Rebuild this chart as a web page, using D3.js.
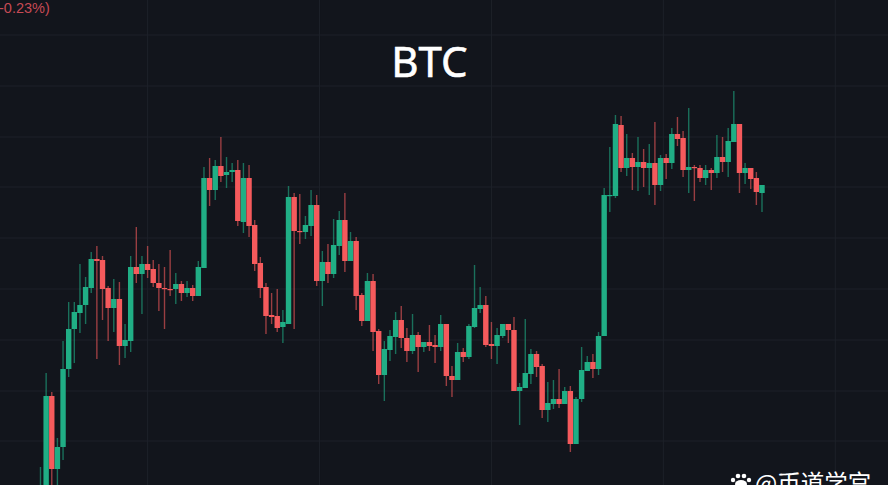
<!DOCTYPE html>
<html><head><meta charset="utf-8">
<style>html,body{margin:0;padding:0;background:#12151c;overflow:hidden}svg{display:block}</style>
<script src="https://cdn.jsdelivr.net/npm/d3@7/dist/d3.min.js"></script>
</head><body><script>
const title = "BTC";
const changeLabel = "-0.23%)";
const watermark = "@币道学宫";
const opens = [480,495,604,531,553,631,671,687,695,712,741,740,712,692,701,654,659,733,726,736,731,717,712,711,711,716,707,712,704,732,822,810,834,825,828,830,778,822,775,737,713,685,684,673,676,803,769,768,774,795,719,738,726,754,780,739,759,705,679,719,669,625,650,663,680,662,649,665,653,658,655,653,676,624,620,648,643,673,691,695,656,654,664,676,670,609,612,626,646,634,590,596,601,596,609,556,601,629,638,631,664,804,804,875,832,842,833,838,832,837,815,842,837,866,862,830,833,832,822,830,827,843,838,858,876,827,832,822,807];
const highs = [533,627,608,562,659,698,698,736,723,748,754,744,714,721,718,676,744,773,744,754,740,736,733,750,727,719,719,715,739,833,842,840,863,843,837,840,837,835,780,743,717,707,711,690,814,807,806,784,810,805,749,756,781,789,807,768,763,707,727,726,671,659,670,688,694,672,686,668,658,675,665,685,676,634,657,652,676,735,713,704,678,672,676,676,683,617,681,651,649,636,618,620,631,613,614,603,653,644,646,668,812,853,885,884,866,847,863,851,856,878,845,846,872,883,869,892,835,835,835,832,865,863,872,909,876,837,832,828,815];
const lows = [475,490,510,510,540,623,637,667,676,707,641,680,659,668,635,642,648,717,686,722,713,689,671,704,696,699,703,699,704,732,794,800,818,812,818,774,767,763,729,702,666,676,668,657,676,671,756,761,764,714,694,717,722,745,728,739,690,674,679,649,616,599,639,646,652,638,646,628,648,649,637,649,614,603,620,638,641,672,687,653,641,636,662,657,609,575,612,616,623,582,578,591,592,596,548,556,598,629,622,625,664,788,802,828,824,810,809,813,805,795,809,821,831,854,823,807,799,818,815,810,822,828,823,858,807,816,811,795,788];
const closes = [505,604,531,553,631,671,688,695,713,741,739,711,692,701,654,660,733,726,736,730,717,712,711,710,716,707,712,704,733,822,810,834,824,828,830,779,822,774,736,712,684,683,672,678,803,769,768,775,795,719,738,726,755,780,739,759,704,679,719,668,625,651,664,680,662,649,665,653,658,654,653,676,624,620,648,643,674,692,695,655,654,665,676,670,609,613,627,646,633,590,597,601,596,609,556,601,630,638,631,664,805,805,876,832,842,833,838,832,837,815,842,837,866,861,830,833,832,822,830,827,843,838,859,876,827,832,821,808,815];
const priceGrid = [965,914,863,813,762,711,660,609,559];
const timeGrid = [19,49.5,80,110.5,141];

const W = 888, H = 485;
const UP = "#20ae85", DOWN = "#f55a5c";
const x = d3.scaleLinear().domain([0, opens.length - 1]).range([40.5, 762]);
const y = d3.scaleLinear().domain([1000, 515]).range([0, 485]);

const svg = d3.select("body").append("svg").attr("width", W).attr("height", H);
svg.append("rect").attr("width", W).attr("height", H).attr("fill", "#12151c");

svg.append("g").selectAll("line").data(priceGrid).join("line")
  .attr("x1", 0).attr("x2", W).attr("y1", d => y(d)).attr("y2", d => y(d))
  .attr("stroke", "#1d2129").attr("stroke-width", 1);
svg.append("g").selectAll("line").data(timeGrid).join("line")
  .attr("x1", d => x(d)).attr("x2", d => x(d)).attr("y1", 0).attr("y2", H)
  .attr("stroke", "#1d2129").attr("stroke-width", 1);

const candles = d3.range(opens.length);
const color = i => closes[i] >= opens[i] ? UP : DOWN;
const g = svg.append("g").style("filter", "blur(0.4px)");
g.append("g").selectAll("line").data(candles).join("line")
  .attr("x1", i => x(i)).attr("x2", i => x(i))
  .attr("y1", i => y(highs[i])).attr("y2", i => y(lows[i]))
  .attr("stroke", color).attr("stroke-width", 1.4).attr("stroke-opacity", 0.6);
g.append("g").selectAll("rect").data(candles).join("rect")
  .attr("x", i => x(i) - 2.7).attr("width", 5.4)
  .attr("y", i => Math.min(y(opens[i]), y(closes[i])))
  .attr("height", i => Math.max(1.2, Math.abs(y(opens[i]) - y(closes[i]))))
  .attr("fill", color);

svg.append("text").text(title).attr("x", 429.5).attr("y", 77).attr("text-anchor", "middle")
  .attr("font-family", "'Noto Sans','Open Sans',sans-serif").attr("font-size", 42)
  .attr("stroke", "#fff").attr("stroke-width", 0.6).attr("fill", "#fff");
svg.append("text").text(changeLabel).attr("x", -1).attr("y", 13)
  .attr("font-family", "'Liberation Sans',sans-serif").attr("font-size", 14.5).attr("fill", "#c64a55");
svg.append("text").text(watermark).attr("x", 755).attr("y", 492)
  .attr("font-family", "'Noto Sans CJK SC',sans-serif").attr("font-size", 23.5).attr("fill", "#fff");

const paw = svg.append("g").attr("fill", "#fff");
[[733,480,2.2],[738,476,2.3],[744,476,2.3],[749,480,2.2]].forEach(c =>
  paw.append("circle").attr("cx", c[0]).attr("cy", c[1]).attr("r", c[2]));
paw.append("ellipse").attr("cx", 741).attr("cy", 484).attr("rx", 6).attr("ry", 4);
</script></body></html>
